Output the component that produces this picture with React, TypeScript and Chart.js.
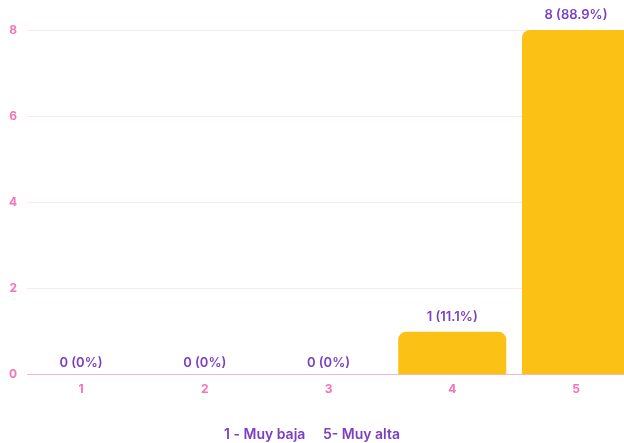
import React, { useEffect, useRef } from "react";
import { Chart, registerables } from "chart.js";

Chart.register(...registerables);

const categories = [1, 2, 3, 4, 5];
const counts = [0, 0, 0, 1, 8];
const yTicks = [0, 2, 4, 6, 8];
const axisTitle = "1 - Muy baja     5- Muy alta";

const total = counts.reduce((a, b) => a + b, 0);
const labelFor = (v: number) => {
  const pct = total ? (v / total) * 100 : 0;
  return `${v} (${pct === 0 ? "0" : pct.toFixed(1)}%)`;
};

const FONT = "Inter, 'Open Sans', sans-serif";
const PINK = "#f472b6";
const PURPLE = "#7b3fc4";

const valueLabels = {
  id: "valueLabels",
  afterDatasetsDraw(chart: any) {
    const ctx = chart.ctx;
    const meta = chart.getDatasetMeta(0);
    ctx.save();
    ctx.fillStyle = PURPLE;
    ctx.font = `600 13px ${FONT}`;
    ctx.textAlign = "center";
    ctx.textBaseline = "middle";
    meta.data.forEach((el: any, i: number) => {
      const v = counts[i];
      const off = v === 0 ? 12 : 15;
      ctx.fillText(labelFor(v), el.x, el.y - off);
    });
    ctx.restore();
  },
};

export default function App() {
  const ref = useRef<HTMLCanvasElement>(null);
  useEffect(() => {
    document.body.style.margin = "0";
    document.body.style.overflow = "hidden";
    const chart = new Chart(ref.current!, {
      type: "bar",
      data: {
        datasets: [
          {
            data: categories.map((c, i) => ({ x: c, y: counts[i] })),
            backgroundColor: "#fbc114",
            borderRadius: 8,
            barPercentage: 1,
            categoryPercentage: 0.873,
          },
        ],
      },
      plugins: [valueLabels],
      options: {
        animation: false,
        responsive: false,
        maintainAspectRatio: false,
        layout: { padding: { top: 30, left: 0, right: 0, bottom: 0 } },
        plugins: {
          legend: { display: false },
          tooltip: { enabled: false },
          title: {
            display: true,
            position: "bottom",
            text: axisTitle,
            color: PURPLE,
            font: { family: FONT, size: 14, weight: "600" as any },
            padding: { top: 23, bottom: 0 },
          },
        },
        scales: {
          x: {
            type: "linear",
            offset: false,
            min: 1 - 54 / 123.75,
            max: 1 + (624 - 81) / 123.75,
            grid: { display: false, drawTicks: false },
            border: { display: false },
            ticks: {
              stepSize: 1,
              includeBounds: false,
              padding: 7,
              color: PINK,
              font: { family: FONT, size: 12, weight: "700" as any },
              callback: (v: any) => (categories.includes(v) ? String(v) : ""),
            },
          },
          y: {
            min: 0,
            max: 8,
            afterFit: (s: any) => {
              s.width = 27;
            },
            afterBuildTicks: (s: any) => {
              s.ticks = yTicks.map((v) => ({ value: v }));
            },
            grid: {
              drawTicks: false,
              color: (c: any) => (c.tick && c.tick.value === 0 ? "#f9b3d3" : "#fde6f0"),
              lineWidth: 1,
            },
            border: { display: false },
            ticks: {
              padding: 10,
              color: PINK,
              font: { family: FONT, size: 12, weight: "700" as any },
            },
          },
        },
      },
    });
    return () => chart.destroy();
  }, []);
  return (
    <div style={{ width: 624, height: 443 }}>
      <canvas ref={ref} width={624} height={443} style={{ display: "block" }} />
    </div>
  );
}
